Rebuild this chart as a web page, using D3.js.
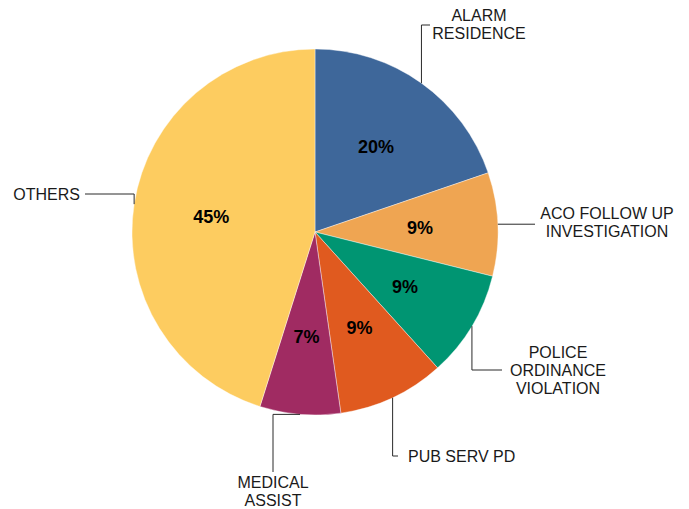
<!DOCTYPE html>
<html lang="en">
<head>
<meta charset="UTF-8">
<title>Pie Chart</title>
<style>
    body{ margin: 0; background: #fff; }
    text{ font-family: "Liberation Sans", Arial, sans-serif; }
    .leader{ fill: none; stroke: #2a2a2a; stroke-width: 1; }
    .label{ font-size: 16px; fill: #1a1a1a; }
    .pct{ font-size: 18px; font-weight: bold; fill: #000; }
</style>
</head>
<body>
<svg width="689" height="509"></svg>
<script src="https://d3js.org/d3.v7.min.js"></script>
<script>
var categories = ["ALARM RESIDENCE", "ACO FOLLOW UP INVESTIGATION", "POLICE ORDINANCE VIOLATION", "PUB SERV PD", "MEDICAL ASSIST", "OTHERS"];
var labelLines = [["ALARM", "RESIDENCE"], ["ACO FOLLOW UP", "INVESTIGATION"], ["POLICE", "ORDINANCE", "VIOLATION"], ["PUB SERV PD"], ["MEDICAL", "ASSIST"], ["OTHERS"]];
var values = [197, 91, 94, 94, 71, 450];
var colors = ["#3e679a", "#efa552", "#009572", "#e05a1f", "#a02b62", "#fdcc60"];

var svg = d3.select("svg"),
    cx = 315, cy = 232, radius = 183,
    g = svg.append("g").attr("transform", "translate(" + cx + "," + cy + ")");

var total = d3.sum(values);
var pie = d3.pie().sort(null).value(function(d){ return d; });
var arcs = pie(values);
var arc = d3.arc().innerRadius(0).outerRadius(radius);
var inner = d3.arc().innerRadius(105).outerRadius(105);
var edge = d3.arc().innerRadius(radius).outerRadius(radius);

g.selectAll(".slice")
    .data(arcs)
    .enter().append("path")
    .attr("class", "slice")
    .attr("d", arc)
    .attr("fill", function(d, i){ return colors[i]; })
    .attr("stroke", "#fff")
    .attr("stroke-width", 0.4);

g.selectAll(".pct")
    .data(arcs)
    .enter().append("text")
    .attr("class", "pct")
    .attr("transform", function(d){ return "translate(" + inner.centroid(d) + ")"; })
    .attr("text-anchor", "middle")
    .attr("dy", "0.36em")
    .text(function(d){ return Math.round(d.value / total * 100) + "%"; });

// label layout: elbow kind, turn coordinate, end coordinate, text anchor point (page coords)
var layout = [
    {kind: "v", turn: 25, end: 430, tx: 479, ty: 24, anchor: "middle"},
    {kind: "h", end: 535, tx: 607, ty: 222, anchor: "middle"},
    {kind: "v", turn: 370, end: 502, tx: 558, ty: 370, anchor: "middle"},
    {kind: "v", turn: 456, end: 398, tx: 408, ty: 456, anchor: "start"},
    {kind: "hv", turn: 273, end: 472, tx: 273, ty: 491, anchor: "middle"},
    {kind: "vh", turn: 194, end: 85, tx: 80, ty: 194, anchor: "end"}
];

var lines = svg.append("g");
arcs.forEach(function(d, i){
    var p = edge.centroid(d), L = layout[i];
    var x0 = p[0] + cx, y0 = p[1] + cy, pts;
    if (L.kind === "v" || L.kind === "vh") pts = [[x0, y0], [x0, L.turn], [L.end, L.turn]];
    else if (L.kind === "h") pts = [[x0, y0], [L.end, y0]];
    else pts = [[x0, y0], [L.turn, y0], [L.turn, L.end]];
    lines.append("path").attr("class", "leader").attr("d", d3.line()(pts));

    var n = labelLines[i].length, lh = 18;
    var t = svg.append("text")
        .attr("class", "label")
        .attr("text-anchor", L.anchor)
        .attr("x", L.tx)
        .attr("y", L.ty - (n - 1) * lh / 2);
    labelLines[i].forEach(function(s, j){
        t.append("tspan")
            .attr("x", L.tx)
            .attr("dy", j === 0 ? "0.36em" : lh)
            .text(s);
    });
});
</script>
</body>
</html>
